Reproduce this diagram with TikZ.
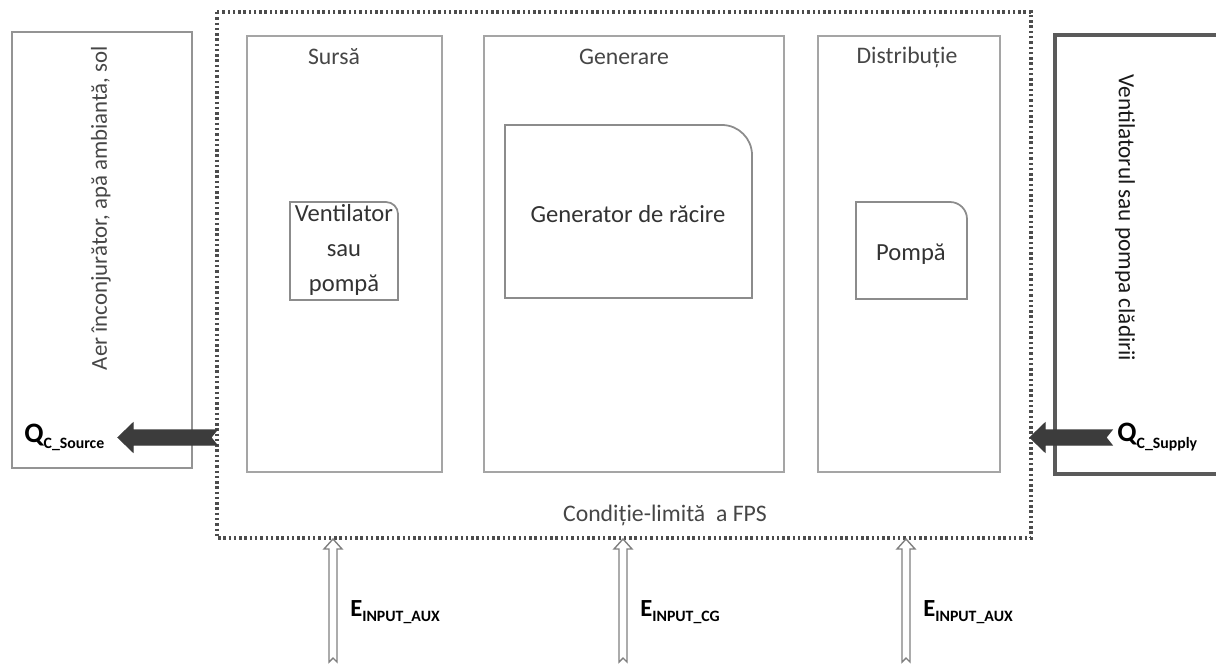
\documentclass[tikz,border=0pt]{standalone}
\usepackage{fontspec}
\setmainfont{Carlito}
\usetikzlibrary{calc,positioning}
\definecolor{panelgray}{RGB}{165,165,165}
\definecolor{darkline}{RGB}{90,90,90}
\definecolor{textgray}{RGB}{70,70,70}
\definecolor{arrowgray}{RGB}{60,60,60}

\begin{document}
\begin{tikzpicture}[x=0.02cm,y=-0.02cm,
  panel/.style={draw=panelgray,line width=0.9pt},
  sidebox/.style={draw=panelgray!90!black,line width=0.9pt},
  innerbox/.style={draw=panelgray!85!black,line width=1pt},
  lbl/.style={text=textgray,font=\fontsize{13.5}{16}\selectfont,inner sep=0pt},
  qlbl/.style={text=black,font=\bfseries\fontsize{15}{17}\selectfont,inner sep=0pt},
  fatarrow/.style={fill=arrowgray,draw=arrowgray,line width=0.6pt},
  hollowarrow/.style={draw=gray,fill=white,line width=0.8pt}]
\useasboundingbox (0,0) rectangle (1216,669);
% outer boxes
\draw[sidebox] (12,32) rectangle (192,468);
\draw[darkline,line width=1.8pt] (1216,35) -- (1055,35) -- (1055,474) -- (1216,474);
\draw[black!70,line width=2pt,dash pattern=on 1.4pt off 1.6pt] (217,12) rectangle (1031,538);
% panels
\draw[panel] (247,36) rectangle (442,472);
\draw[panel] (484,36) rectangle (784,472);
\draw[panel] (818,36) rectangle (1000,472);
% inner boxes with one round corner
\draw[innerbox] (290,300)--(290,202)--(386,202)..controls(392.6,202)and(398,207.4)..(398,214)--(398,300)--cycle;
\draw[innerbox] (505,298)--(505,125)--(722,125)..controls(738.5,125)and(752,138.5)..(752,155)--(752,298)--cycle;
\draw[innerbox] (856,299)--(856,202)--(950,202)..controls(959.4,202)and(967,209.6)..(967,219)--(967,299)--cycle;
% texts
\node[lbl] (sursa) at (334,57) {Sursă};
\node[lbl] (generare) at (624,57) {Generare};
\node[lbl] (distrib) at (907,57) {Distribuție};
\node[lbl,text=black!80,align=center,font=\fontsize{14}{20}\selectfont] (ventil) at (344,250) {Ventilator\\sau\\pompă};
\node[lbl,text=black!80,font=\fontsize{14}{16}\selectfont] (gen) at (628,214) {Generator de răcire};
\node[lbl,text=black!80,font=\fontsize{14}{16}\selectfont] (pompa) at (911,254) {Pompă};
\node[lbl,rotate=90,font=\fontsize{13}{16}\selectfont] (aer) at (101,208) {Aer înconjurător, apă ambiantă, sol};
\node[lbl,rotate=-90,text=black!90,font=\fontsize{13.2}{16}\selectfont] (cladire) at (1125,218) {Ventilatorul sau pompa clădirii};
\node[lbl] (limita) at (665,515) {Condiție-limită~ a FPS};
% heat flows
\coordinate (srctail) at (217,437.5);
\coordinate (suptail) at (1112,437.5);
\fill[fatarrow] (srctail) ++(0,-7.5) -- ++(-84,0) -- ++(0,-7) -- ++(-15,14.5) -- ++(15,14.5) -- ++(0,-7) -- ++(84,0) -- ++(-6,-7.5) -- cycle;
\fill[fatarrow] (suptail) ++(0,-7.5) -- ++(-67,0) -- ++(0,-7) -- ++(-15,14.5) -- ++(15,14.5) -- ++(0,-7) -- ++(67,0) -- ++(-6,-7.5) -- cycle;
\node[qlbl,anchor=west,font=\bfseries\fontsize{16}{17}\selectfont] (qsrc) at (24,437) {Q\raisebox{-0.45ex}{\fontsize{9}{10}\selectfont C\_Source}};
\node[qlbl,anchor=west,font=\bfseries\fontsize{16}{17}\selectfont] (qsup) at (1117,437) {Q\raisebox{-0.45ex}{\fontsize{9}{10}\selectfont C\_Supply}};
% auxiliary energy inputs
\foreach \x/\name/\sub in {333/eaux1/INPUT\_AUX,623/ecg/INPUT\_CG,906/eaux2/INPUT\_AUX}{
  \coordinate (\name tail) at (\x,662);
  \draw[hollowarrow] (\name tail) ++(-4,0) -- ++(0,-113) -- ++(-5,0) -- ++(9,-10) -- ++(9,10) -- ++(-5,0) -- ++(0,113) -- ++(-4,-4) -- cycle;
  \node[qlbl,anchor=west,font=\bfseries\fontsize{14}{16}\selectfont] (\name) at (\x+17,612) {E\raisebox{-0.45ex}{\fontsize{9}{10}\selectfont \sub}};
}
\end{tikzpicture}
\end{document}
